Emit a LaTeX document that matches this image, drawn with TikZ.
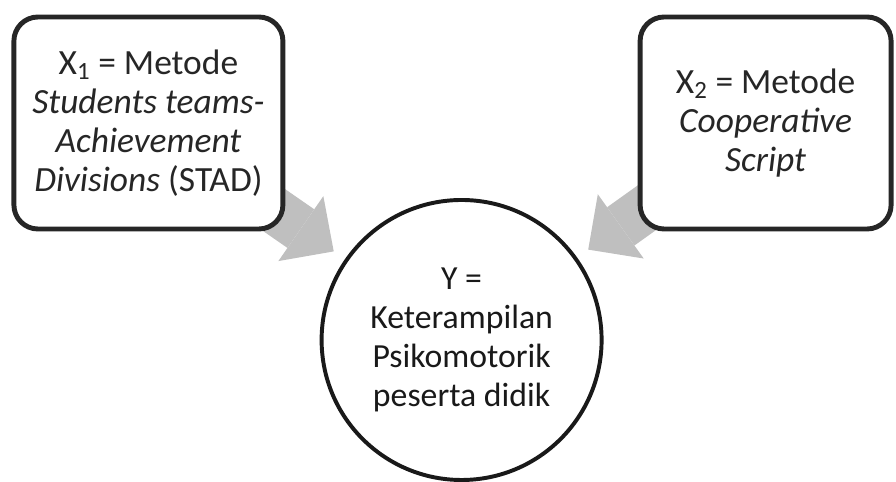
\documentclass[tikz,border=0pt]{standalone}
\usepackage{fontspec}
\setmainfont{Carlito}
\usetikzlibrary{arrows.meta,backgrounds}
\definecolor{boxline}{RGB}{38,38,38}
\definecolor{flowgray}{RGB}{191,191,191}
\tikzset{
  varbox/.style={draw=boxline, line width=3.5pt, rounded corners=0.6cm, fill=white,
    align=center, minimum height=5.3cm, text=boxline, font=\fontsize{25.2}{27.8}\selectfont},
  varcircle/.style={draw=black!90, line width=2.8pt, circle, minimum size=7cm,
    inner sep=0pt, align=center, text=black!90},
  flow/.style={draw=flowgray, line width=1.175cm,
    -{Triangle[length=1cm,width=1.975cm,line width=0pt,fill=flowgray]}, shorten >=0.34cm}
}
\begin{document}
\begin{tikzpicture}[line join=round, font=\fontsize{24}{27.7}\selectfont]
  \useasboundingbox (0,0) rectangle (22.4,12.05);
  \node[varbox, minimum width=6.725cm] (stad) at (3.71,8.975)
    {X\textsubscript{1} = Metode\\ \textit{Students teams-}\\ \textit{Achievement}\\ \textit{Divisions} (STAD)};
  \node[varbox, minimum width=6.275cm] (coop) at (19.14,8.975)
    {X\textsubscript{2} = Metode\\ \textit{Cooperative}\\ \textit{Script}};
  \node[varcircle] (y) at (11.54,3.55)
    {Y =\\ Keterampilan\\ Psikomotorik\\ peserta didik};
  % arrows behind the boxes
  \begin{scope}[on background layer]
    \draw[flow] (stad.center) -- (y);
    \draw[flow] (coop.center) -- (y);
  \end{scope}
\end{tikzpicture}
\end{document}
